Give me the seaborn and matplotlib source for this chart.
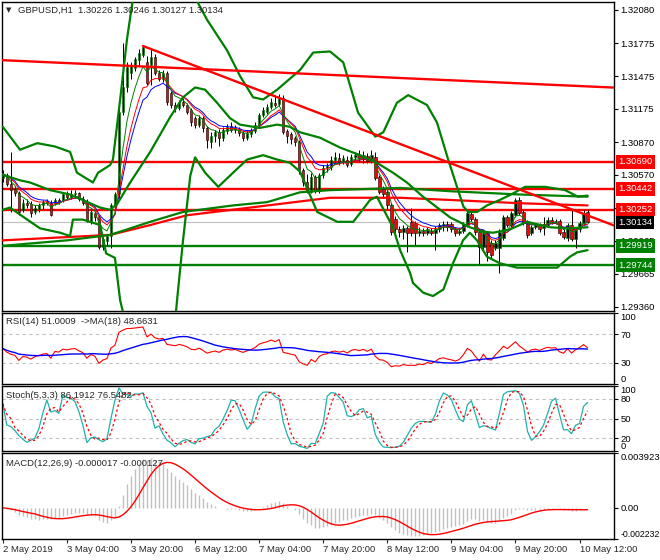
import numpy as np
import pandas as pd
import matplotlib
matplotlib.use('Agg')
import matplotlib.pyplot as plt
import matplotlib.transforms as mtransforms
import seaborn as sns

# GBPUSD H1 bars, 2 May 12:00 .. 10 May 14:00
opens = [1.3054, 1.3057, 1.3049, 1.3044, 1.3040, 1.3025, 1.3031, 1.3030, 1.3023, 1.3026,
         1.3029, 1.3031, 1.3031, 1.3031, 1.3034, 1.3034, 1.3039, 1.3037, 1.3039, 1.3040,
         1.3035, 1.3032, 1.3015, 1.3022, 1.3018, 1.2991, 1.2996, 1.3001, 1.3029, 1.3039,
         1.3115, 1.3137, 1.3150, 1.3155, 1.3162, 1.3167, 1.3160, 1.3158, 1.3165, 1.3150,
         1.3145, 1.3150, 1.3132, 1.3121, 1.3118, 1.3124, 1.3121, 1.3116, 1.3109, 1.3103,
         1.3109, 1.3100, 1.3087, 1.3093, 1.3096, 1.3091, 1.3097, 1.3102, 1.3098, 1.3099,
         1.3095, 1.3091, 1.3094, 1.3097, 1.3103, 1.3112, 1.3115, 1.3119, 1.3123, 1.3122,
         1.3127, 1.3097, 1.3094, 1.3091, 1.3087, 1.3061, 1.3050, 1.3041, 1.3055, 1.3042,
         1.3057, 1.3063, 1.3064, 1.3071, 1.3072, 1.3069, 1.3071, 1.3067, 1.3073, 1.3075,
         1.3072, 1.3074, 1.3070, 1.3073, 1.3055, 1.3044, 1.3041, 1.3029, 1.3017, 1.3007,
         1.3005, 1.3008, 1.3014, 1.3013, 1.3004, 1.3006, 1.3004, 1.3006, 1.3004, 1.3007,
         1.3010, 1.3012, 1.3012, 1.3007, 1.3004, 1.3006, 1.3011, 1.3021, 1.3017, 1.3005,
         1.2991, 1.3004, 1.2995, 1.2990, 1.2990, 1.2999, 1.3018, 1.3011, 1.3020, 1.3034,
         1.3023, 1.3014, 1.3004, 1.3009, 1.3011, 1.3008, 1.3011, 1.3016, 1.3014, 1.3015,
         1.3005, 1.2999, 1.3011, 1.2998, 1.3007, 1.3013, 1.30226]
highs = [1.3061, 1.3059, 1.3078, 1.3047, 1.3042, 1.3035, 1.3035, 1.3033, 1.3029, 1.3031,
         1.3034, 1.3035, 1.3034, 1.3036, 1.3036, 1.3041, 1.3042, 1.3043, 1.3043, 1.3041,
         1.3038, 1.3035, 1.3026, 1.3024, 1.3020, 1.3000, 1.3003, 1.3031, 1.3041, 1.3118,
         1.3178, 1.3160, 1.3160, 1.3165, 1.3172, 1.3176, 1.3166, 1.3172, 1.3168, 1.3153,
         1.3153, 1.3152, 1.3134, 1.3124, 1.3126, 1.3127, 1.3123, 1.3118, 1.3111, 1.3112,
         1.3111, 1.3102, 1.3096, 1.3098, 1.3099, 1.3101, 1.3104, 1.3105, 1.3103, 1.3101,
         1.3097, 1.3098, 1.3100, 1.3105, 1.3114, 1.3119, 1.3122, 1.3127, 1.3130, 1.3131,
         1.3130, 1.3099, 1.3096, 1.3093, 1.3089, 1.3063, 1.3058, 1.3059, 1.3057, 1.3059,
         1.3066, 1.3068, 1.3074, 1.3078, 1.3077, 1.3075, 1.3074, 1.3076, 1.3078, 1.3080,
         1.3079, 1.3077, 1.3080, 1.3078, 1.3057, 1.3047, 1.3043, 1.3031, 1.3019, 1.3010,
         1.3011, 1.3010, 1.3027, 1.3015, 1.3009, 1.3008, 1.3009, 1.3008, 1.3010, 1.3013,
         1.3015, 1.3015, 1.3014, 1.3009, 1.3008, 1.3014, 1.3025, 1.3024, 1.3018, 1.3007,
         1.3006, 1.3006, 1.2997, 1.2997, 1.3007, 1.3020, 1.3020, 1.3024, 1.3036, 1.3037,
         1.3025, 1.3016, 1.3011, 1.3013, 1.3013, 1.3018, 1.3018, 1.3018, 1.3017, 1.3017,
         1.3007, 1.3013, 1.3025, 1.3009, 1.3015, 1.3025, 1.30246]
lows = [1.3050, 1.3047, 1.3023, 1.3038, 1.3020, 1.3023, 1.3027, 1.3018, 1.3021, 1.3023,
        1.3026, 1.3029, 1.3019, 1.3029, 1.3030, 1.3032, 1.3035, 1.3035, 1.3036, 1.3033,
        1.3029, 1.3014, 1.3012, 1.3015, 1.2989, 1.2988, 1.2993, 1.2990, 1.3027, 1.3036,
        1.3112, 1.3133, 1.3145, 1.3152, 1.3158, 1.3165, 1.3139, 1.3139, 1.3148, 1.3143,
        1.3142, 1.3121, 1.3118, 1.3115, 1.3116, 1.3119, 1.3113, 1.3102, 1.3100, 1.3101,
        1.3096, 1.3082, 1.3082, 1.3087, 1.3083, 1.3088, 1.3094, 1.3096, 1.3095, 1.3093,
        1.3088, 1.3089, 1.3092, 1.3095, 1.3101, 1.3110, 1.3113, 1.3117, 1.3119, 1.3120,
        1.3094, 1.3086, 1.3085, 1.3083, 1.3058, 1.3047, 1.3040, 1.3040, 1.3040, 1.3040,
        1.3054, 1.3060, 1.3061, 1.3068, 1.3066, 1.3067, 1.3064, 1.3065, 1.3071, 1.3069,
        1.3068, 1.3068, 1.3068, 1.3052, 1.3039, 1.3036, 1.3026, 1.3002, 1.3004, 1.3000,
        1.2998, 1.2986, 1.3001, 1.2993, 1.3001, 1.3001, 1.3002, 1.3002, 1.2988, 1.3005,
        1.3006, 1.3006, 1.3005, 1.3001, 1.3002, 1.3004, 1.3009, 1.3015, 1.3002, 1.2975,
        1.2988, 1.2978, 1.2981, 1.2988, 1.2967, 1.2997, 1.3009, 1.3009, 1.3018, 1.3020,
        1.3011, 1.2999, 1.3002, 1.3007, 1.3005, 1.3002, 1.3009, 1.3012, 1.3012, 1.3002,
        1.2998, 1.2996, 1.2996, 1.2990, 1.3005, 1.3011, 1.30127]
closes = [1.3058, 1.3049, 1.3043, 1.3040, 1.3023, 1.3031, 1.3029, 1.3022, 1.3027, 1.3029,
          1.3032, 1.3033, 1.3020, 1.3034, 1.3032, 1.3039, 1.3037, 1.3039, 1.3040, 1.3035,
          1.3031, 1.3016, 1.3023, 1.3018, 1.2991, 1.2998, 1.3001, 1.3029, 1.3039, 1.3115,
          1.3137, 1.3156, 1.3157, 1.3163, 1.3169, 1.3174, 1.3141, 1.3165, 1.3150, 1.3145,
          1.3150, 1.3124, 1.3121, 1.3118, 1.3124, 1.3121, 1.3115, 1.3105, 1.3103, 1.3109,
          1.3100, 1.3089, 1.3093, 1.3096, 1.3091, 1.3098, 1.3101, 1.3098, 1.3100, 1.3095,
          1.3091, 1.3095, 1.3098, 1.3103, 1.3112, 1.3116, 1.3119, 1.3124, 1.3121, 1.3127,
          1.3096, 1.3093, 1.3090, 1.3087, 1.3061, 1.3050, 1.3041, 1.3055, 1.3042, 1.3057,
          1.3063, 1.3065, 1.3071, 1.3073, 1.3069, 1.3072, 1.3066, 1.3073, 1.3075, 1.3072,
          1.3075, 1.3070, 1.3075, 1.3054, 1.3041, 1.3039, 1.3029, 1.3005, 1.3007, 1.3005,
          1.3008, 1.3004, 1.3004, 1.3004, 1.3006, 1.3004, 1.3007, 1.3004, 1.3007, 1.3011,
          1.3012, 1.3009, 1.3007, 1.3004, 1.3006, 1.3012, 1.3022, 1.3017, 1.3005, 1.2991,
          1.3004, 1.2986, 1.2984, 1.2995, 1.3005, 1.3018, 1.3011, 1.3022, 1.3034, 1.3022,
          1.3013, 1.3002, 1.3009, 1.3011, 1.3007, 1.3012, 1.3016, 1.3014, 1.3015, 1.3004,
          1.3000, 1.3011, 1.2998, 1.3007, 1.3013, 1.3022, 1.30134]

nan = np.nan
# Bollinger band lines (bar position, price)
bb_upper_bar = [0, 4.3, 8.6, 13, 16.8, 18.5, 22.5, 23.8, 26.8, 27.5, 29.3, 31, 32.4, nan,
                48.5, 51, 56, 59.3, 62.5, 65, 68.5, 74.2, 77.5, 81.7, 85, 88.7, 93, 95, 98.4,
                101.2, 105.9, 108.4, 111.2, 113.4, 115, 116.2, 118.4, 120.9, 124.1, 127.4,
                130.4, 135.4, 140.4, 143.6, 146]
bb_upper_val = [1.3101, 1.3080, 1.3086, 1.3083, 1.3078, 1.3059, 1.3050, 1.3059, 1.3066, 1.3071,
                1.3126, 1.3181, 1.3216, nan, 1.3216, 1.3199, 1.3171, 1.3147, 1.3128, 1.3126,
                1.3135, 1.3153, 1.3169, 1.3170, 1.3160, 1.3114, 1.3092, 1.3096, 1.3123, 1.3130,
                1.3121, 1.3105, 1.3071, 1.3046, 1.3028, 1.3023, 1.3023, 1.3029, 1.3034, 1.3040,
                1.3046, 1.3046, 1.3043, 1.3037, 1.3038]
bb_lower_bar = [0, 1.8, 6.1, 9.3, 14.3, 16.8, 17.5, 20, 24.3, 25.8, 28, 29.3, 30.1, nan,
                43.2, 43.5, 45, 46.8, 48, 50.5, 53.8, 57.5, 61, 65, 68.5, 71.7, 74.2, 78.5,
                83.5, 87.5, 89.2, 91.7, 93.4, 97.4, 99.2, 101.7, 102.4, 105, 107.4, 110,
                112.4, 114.9, 116.6, 118.4, 120.9, 124.1, 128.4, 138.4, 141.6, 143.4, 146]
bb_lower_val = [1.3025, 1.3027, 1.3016, 1.3008, 1.3004, 1.3001, 1.3016, 1.3016, 1.3011, 1.2985,
                1.2981, 1.2942, 1.2930, nan, 1.2930, 1.2942, 1.2997, 1.3056, 1.3073, 1.3059,
                1.3046, 1.3059, 1.3071, 1.3075, 1.3071, 1.3068, 1.3060, 1.3023, 1.3014, 1.3014,
                1.3022, 1.3034, 1.3037, 1.3009, 1.2988, 1.2967, 1.2958, 1.2949, 1.2946, 1.2952,
                1.2976, 1.2997, 1.3004, 1.2997, 1.2982, 1.2976, 1.2972, 1.2972, 1.2982, 1.2986,
                1.2988]
bb_mid_bar = [0, 4.3, 6.8, 11.8, 16.8, 21.8, 24.3, 26.8, 28.5, 31.8, 36.8, 41.8, 45, 48, 50.5,
              53.5, 56.7, 59.2, 64.2, 68.5, 71.7, 74.2, 79.2, 84.2, 89.2, 93.4, 97.4, 100.9,
              104.9, 109.2, 111.7, 116.6, 119.9, 122.4, 126.6, 130.9, 136.6, 140.9, 146]
bb_mid_val = [1.3057, 1.3052, 1.3050, 1.3043, 1.3039, 1.3031, 1.3027, 1.3025, 1.3030, 1.3050,
              1.3078, 1.3110, 1.3128, 1.3137, 1.3135, 1.3123, 1.3109, 1.3103, 1.3100, 1.3103,
              1.3101, 1.3096, 1.3091, 1.3082, 1.3075, 1.3068, 1.3059, 1.3050, 1.3037, 1.3025,
              1.3018, 1.3009, 1.3005, 1.3004, 1.3007, 1.3014, 1.3009, 1.3008, 1.3009]
# slow moving averages
slow_green_bar = [0, 16, 26.8, 31, 36.8, 45, 57.5, 66, 74.2, 81.7, 99.2, 111.7, 129.1, 146]
slow_green_val = [1.2992, 1.2997, 1.3002, 1.3007, 1.3014, 1.3023, 1.3029, 1.3032, 1.3041,
                  1.3043, 1.3045, 1.3042, 1.3039, 1.3037]
slow_red_bar = [0, 26.8, 36.8, 46, 61.7, 81.7, 99.2, 111.7, 129.1, 146]
slow_red_val = [1.2997, 1.3002, 1.3011, 1.3020, 1.3027, 1.3036, 1.3036, 1.3034, 1.3031, 1.3029]

# trendlines (two anchors each) and horizontal levels
trend_down_bar = [35, 128]
trend_down_val = [1.3175, 1.3045]
trend_long_bar = [0, 146]
trend_long_val = [1.3162, 1.3138]
levels_red = [1.30690, 1.30442, 1.30252]
levels_green = [1.29919, 1.29744]
last_price = 1.30134

# 1.30265 sits under the 1.30252 box in the terminal, so only its tick shows
price_ticks = [1.32080, 1.31775, 1.31475, 1.31175, 1.30870, 1.30570, 1.30265, 1.29965,
               1.29665, 1.29360]
hidden_ticks = [1.30265]
date_bars = [0, 16, 32, 48, 64, 80, 96, 112, 128, 144]
date_labels = ['2 May 2019', '3 May 04:00', '3 May 20:00', '6 May 12:00', '7 May 04:00',
               '7 May 20:00', '8 May 12:00', '9 May 04:00', '9 May 20:00', '10 May 12:00']

sns.set_style("white")
plt.rcParams['font.family'] = ['Liberation Sans', 'DejaVu Sans']
plt.rcParams['font.size'] = 6.8

GREEN = '#008000'
SILVER = '#C0C0C0'
W, H = 660, 560
fig = plt.figure(figsize=(W / 100, H / 100), dpi=100)
fig.patch.set_facecolor('white')


def box(x0, y0, x1, y1):
    return [x0 / W, 1 - y1 / H, (x1 - x0) / W, (y1 - y0) / H]


ax = fig.add_axes(box(2, 2, 614, 311))
ax_rsi = fig.add_axes(box(2, 313, 614, 384))
ax_st = fig.add_axes(box(2, 386, 614, 451))
ax_macd = fig.add_axes(box(2, 453, 614, 539))
XLIM = (-0.2, 152.6)

df = pd.DataFrame({'open': opens, 'high': highs, 'low': lows, 'close': closes})
df['bar'] = np.arange(len(df))
c = df['close']

# ---- main price panel
ax.axhline(last_price, color=SILVER, lw=0.8, zorder=1)
for lv in levels_red:
    ax.axhline(lv, color='red', lw=1.7, zorder=2)
for lv in levels_green:
    ax.axhline(lv, color=GREEN, lw=1.7, zorder=2)

up = df['close'] >= df['open']
ax.vlines(df['bar'], df['low'], df['high'], color='black', lw=0.7, zorder=3)
body_lo = df[['open', 'close']].min(axis=1)
body_h = (df['close'] - df['open']).abs().clip(lower=0.00002)
ax.bar(df['bar'], body_h, bottom=body_lo, width=0.62,
       color=np.where(up, 'black', 'red'), edgecolor=np.where(up, GREEN, 'black'),
       linewidth=0.4, zorder=4)

for span, col in [(10, 'blue'), (8, 'red'), (5, GREEN)]:
    sns.lineplot(x=df['bar'], y=c.ewm(span=span, adjust=False).mean(), ax=ax,
                 color=col, lw=0.7, zorder=5)

ax.plot(slow_red_bar, slow_red_val, color='red', lw=1.6, zorder=6)
ax.plot(slow_green_bar, slow_green_val, color=GREEN, lw=1.6, zorder=6)
for xs, ys in [(bb_upper_bar, bb_upper_val), (bb_mid_bar, bb_mid_val),
               (bb_lower_bar, bb_lower_val)]:
    ax.plot(xs, ys, color=GREEN, lw=1.6, zorder=6)

for xs, ys in [(trend_down_bar, trend_down_val), (trend_long_bar, trend_long_val)]:
    k = (ys[1] - ys[0]) / (xs[1] - xs[0])
    x_end = [xs[0] if xs[0] > 0 else XLIM[0], XLIM[1]]
    ax.plot(x_end, [ys[0] + k * (x - xs[0]) for x in x_end], color='red', lw=1.7, zorder=7)

ax.set_ylim(1.29323, 1.32153)
ax.set_yticks(price_ticks)
ax.set_yticklabels(['' if v in hidden_ticks else f'{v:.5f}' for v in price_ticks])

tr = mtransforms.blended_transform_factory(ax.transAxes, ax.transData)
for val, fc in ([(v, 'red') for v in levels_red] + [(v, GREEN) for v in levels_green]
                + [(last_price, 'black')]):
    ax.text(1.0065, val, f'{val:.5f}', transform=tr, ha='left', va='center', color='white',
            fontsize=6.8, clip_on=False, zorder=20,
            bbox=dict(boxstyle='square,pad=0.25', fc=fc, ec='none'))

# ---- RSI panel
delta = c.diff().fillna(0)
gain, loss = delta.clip(lower=0), (-delta).clip(lower=0)
ag = al = delta.abs().iloc[1:15].mean() / 2
rsi_vals = []
for g, l in zip(gain, loss):
    ag = (ag * 13 + g) / 14
    al = (al * 13 + l) / 14
    rsi_vals.append(100 - 100 / (1 + ag / al))
rsi = pd.Series(rsi_vals)
rsi_ma = rsi.rolling(18, min_periods=1).mean()
for lv in [30, 70]:
    ax_rsi.axhline(lv, color=SILVER, lw=0.8, ls=(0, (3, 3)))
sns.lineplot(x=df['bar'], y=rsi, ax=ax_rsi, color='red', lw=0.8)
sns.lineplot(x=df['bar'], y=rsi_ma, ax=ax_rsi, color='blue', lw=1.0)
ax_rsi.set_ylim(0, 100)
ax_rsi.set_yticks([100, 70, 30, 0])

# ---- Stochastic panel
ll = df['low'].rolling(5, min_periods=1).min()
hh = df['high'].rolling(5, min_periods=1).max()
k_line = 100 * (c - ll).rolling(3, min_periods=1).sum() / (hh - ll).rolling(3, min_periods=1).sum()
d_line = k_line.rolling(3, min_periods=1).mean()
for lv in [20, 50, 80]:
    ax_st.axhline(lv, color=SILVER, lw=0.8, ls=(0, (3, 3)))
sns.lineplot(x=df['bar'], y=k_line, ax=ax_st, color='#20B2AA', lw=0.9)
ax_st.plot(df['bar'], d_line, color='red', lw=0.9, ls=(0, (2, 2)))
ax_st.set_ylim(0, 100)
ax_st.set_yticks([100, 80, 50, 20, 0])

# ---- MACD panel
macd = c.ewm(span=12, adjust=False).mean() - c.ewm(span=26, adjust=False).mean()
signal = macd.rolling(9, min_periods=1).mean()
ax_macd.vlines(df['bar'], 0, macd, color=SILVER, lw=1.0)
sns.lineplot(x=df['bar'], y=signal, ax=ax_macd, color='red', lw=1.0)
ax_macd.set_ylim(-0.002232, 0.003923)
ax_macd.set_yticks([0.003923, 0.0, -0.002232])
ax_macd.set_yticklabels(['0.003923', '0.00', '-0.002232'])

for a in [ax, ax_rsi, ax_st, ax_macd]:
    a.set_xlim(*XLIM)
    a.set_facecolor('white')
    a.set_xlabel('')
    a.set_ylabel('')
    a.yaxis.tick_right()
    a.tick_params(axis='y', direction='out', length=3, width=0.8, pad=1.5, labelsize=6.8,
                  colors='black', right=True, left=False)
    for s in a.spines.values():
        s.set_color('black')
        s.set_linewidth(1.0)
    if a is not ax_macd:
        a.set_xticks([])

ax_macd.set_xticks(date_bars)
ax_macd.set_xticklabels(date_labels)
ax_macd.tick_params(axis='x', direction='out', length=3, width=0.8, pad=1, labelsize=6.8,
                    bottom=True)
for lbl in ax_macd.get_xticklabels():
    lbl.set_ha('left')

# edge labels of the indicator scales sit inside the panel
for a in [ax_rsi, ax_st, ax_macd]:
    labels = a.get_yticklabels()
    labels[0].set_va('top')
    labels[-1].set_va('bottom')
# the long negative MACD label has to fit before the picture's right edge
ax_macd.get_yticklabels()[-1].set_fontsize(6.3)

# ---- captions
fig.text(6 / W, 1 - 10 / H, '\u25bc', fontsize=5, family='DejaVu Sans', va='center')
fig.text(18 / W, 1 - 10 / H, 'GBPUSD,H1  1.30226 1.30246 1.30127 1.30134', va='center')
fig.text(6 / W, 1 - 321 / H, 'RSI(14) 51.0009  ->MA(18) 48.6631', va='center')
fig.text(6 / W, 1 - 396 / H, 'Stoch(5,3,3) 86.1912 76.5482', va='center')
fig.text(6 / W, 1 - 463 / H, 'MACD(12,26,9) -0.000017 -0.000127', va='center')

plt.savefig('out.png', dpi=100, facecolor='white')
plt.close()
